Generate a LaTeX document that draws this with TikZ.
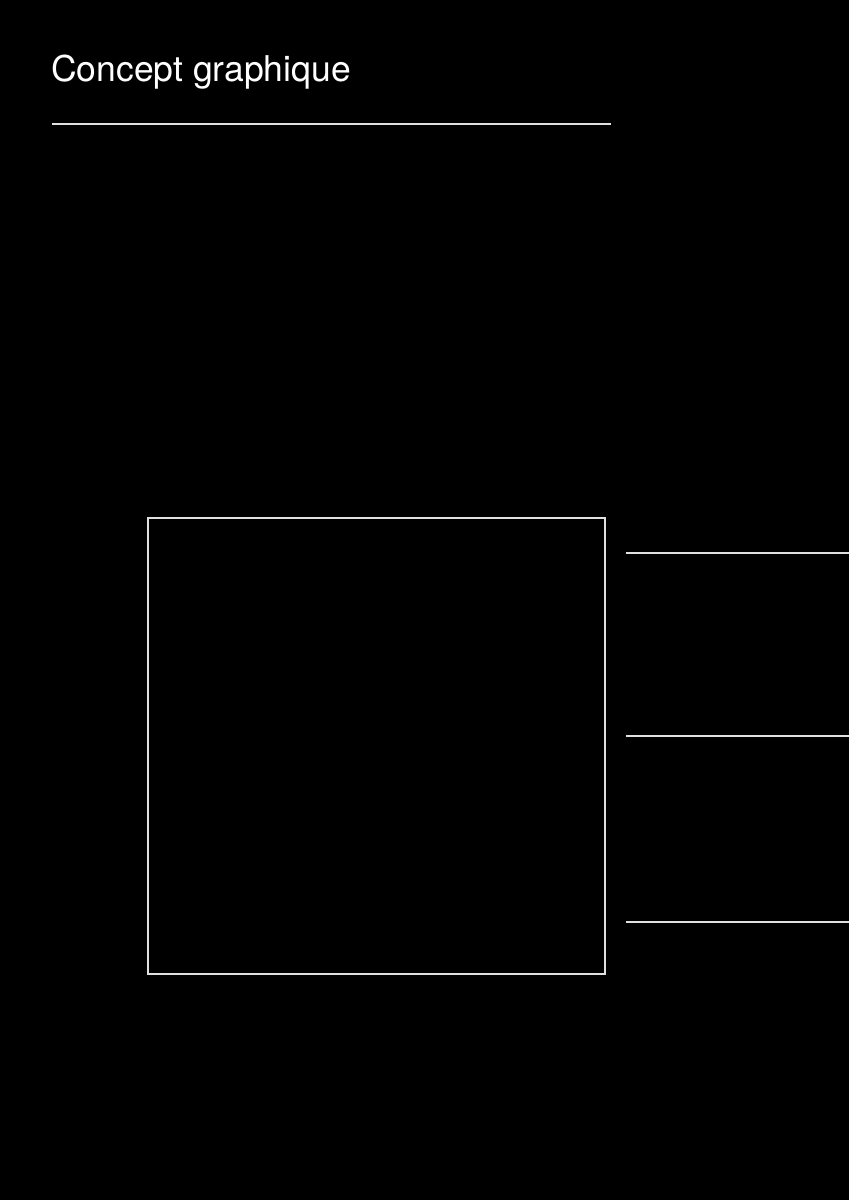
\documentclass[tikz,border=0pt]{standalone}
\usepackage{fontspec}
\setmainfont{TeX Gyre Heros}
\begin{document}
\begin{tikzpicture}[x=1pt,y=-1pt,
  rule/.style={draw=white!88!black, line width=1.4pt},
  title/.style={text=white, font=\fontsize{35.5}{40}\selectfont, inner sep=0pt, anchor=base west}]
\useasboundingbox[fill=black] (0,0) rectangle (849,1200);
\node[title] (t) at (51,81.5) {Concept graphique};
\draw[rule] (51.5,124) -- (611,124);
\draw[rule] (148,518) rectangle (605,974);
\draw[rule] (626,553) -- (849,553);
\draw[rule] (626,736) -- (849,736);
\draw[rule] (626,922) -- (849,922);
\end{tikzpicture}
\end{document}
